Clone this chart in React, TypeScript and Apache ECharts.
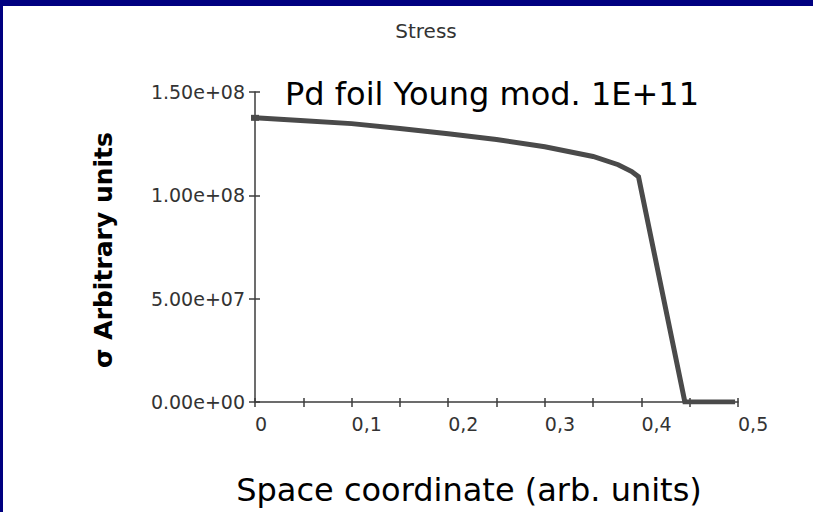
import React, { useEffect, useRef } from "react";
import * as echarts from "echarts";

const chartTitle = "Stress";
const annotation = "Pd foil Young mod. 1E+11";
const xAxisTitle = "Space coordinate (arb. units)";
const yAxisTitle = "σ Arbitrary units";

const positions = [0, 0.047, 0.1, 0.15, 0.2, 0.25, 0.3, 0.35, 0.376, 0.39, 0.397, 0.445, 0.497];
const stress = [1.375e8, 1.362e8, 1.347e8, 1.323e8, 1.298e8, 1.27e8, 1.235e8, 1.188e8, 1.148e8, 1.115e8, 1.09e8, 0, 0];

const xMin = 0;
const xMax = 0.5;
const xStep = 0.05;
const yMin = 0;
const yMax = 1.5e8;
const yStep = 5e7;

const fmtY = (v: number) => {
  const s = v.toExponential(2);
  const [m, e] = s.split("e");
  const sign = e[0];
  const digits = e.slice(1).padStart(2, "0");
  return `${m}e${sign}${digits}`;
};

const fmtX = (v: number) => {
  const t = v * 10;
  if (Math.abs(t - Math.round(t)) > 1e-6) return "";
  if (Math.round(t) === 0) return "0";
  return (Math.round(t) / 10).toFixed(1).replace(".", ",");
};

export default function App() {
  const ref = useRef<HTMLDivElement>(null);
  useEffect(() => {
    if (!ref.current) return;
    const chart = echarts.init(ref.current, undefined, { renderer: "svg" });
    const axisColor = "#3c3c3c";
    const labelFont = {
      fontFamily: "DejaVu Sans",
      fontSize: 19,
      color: "#333",
    };
    chart.setOption({
      animation: false,
      backgroundColor: "#ffffff",
      grid: { left: 255, top: 92, right: 75, bottom: 110, containLabel: false },
      xAxis: [
        {
          type: "value",
          min: xMin,
          max: xMax,
          interval: xStep,
          position: "bottom",
          axisLine: { show: true, lineStyle: { color: axisColor, width: 1.5 } },
          axisTick: { show: true, length: 5, lineStyle: { color: axisColor, width: 1.5 } },
          splitLine: { show: false },
          axisLabel: {
            ...labelFont,
            margin: 12,
            align: "left",
            formatter: (v: number) => fmtX(v),
            showMinLabel: true,
            showMaxLabel: true,
          },
        },
        {
          type: "value",
          min: xMin,
          max: xMax,
          interval: xStep,
          position: "bottom",
          axisLine: { show: false },
          axisTick: { show: true, inside: true, length: 4, lineStyle: { color: axisColor, width: 1.5 } },
          splitLine: { show: false },
          axisLabel: { show: false },
        },
      ],
      yAxis: [
        {
          type: "value",
          min: yMin,
          max: yMax,
          interval: yStep,
          position: "left",
          axisLine: { show: true, lineStyle: { color: axisColor, width: 1.5 } },
          axisTick: { show: true, length: 6, lineStyle: { color: axisColor, width: 1.5 } },
          splitLine: { show: false },
          axisLabel: {
            ...labelFont,
            margin: 10,
            formatter: (v: number) => fmtY(v),
          },
        },
        {
          type: "value",
          min: yMin,
          max: yMax,
          interval: yStep,
          position: "left",
          axisLine: { show: false },
          axisTick: { show: true, inside: true, length: 5, lineStyle: { color: axisColor, width: 1.5 } },
          splitLine: { show: false },
          axisLabel: { show: false },
        },
      ],
      series: [
        {
          type: "line",
          xAxisIndex: 0,
          yAxisIndex: 0,
          data: positions.map((x, i) =>
            i === 0
              ? { value: [x, stress[i]], symbol: "rect", symbolSize: [8, 6] }
              : { value: [x, stress[i]], symbol: "none" }
          ),
          showSymbol: true,
          itemStyle: { color: "#4a4a4a" },
          lineStyle: { color: "#4a4a4a", width: 5, join: "miter" },
          silent: true,
        },
      ],
      graphic: [
        { type: "rect", shape: { x: 0, y: 0, width: 813, height: 6 }, style: { fill: "#000080" }, silent: true },
        { type: "rect", shape: { x: 0, y: 0, width: 3, height: 512 }, style: { fill: "#000080" }, silent: true },
        {
          type: "text",
          x: 426,
          y: 31,
          style: {
            text: chartTitle,
            fontFamily: "DejaVu Sans",
            fontSize: 20,
            fill: "#333",
            align: "center",
            verticalAlign: "middle",
          },
        },
        {
          type: "text",
          x: 285,
          y: 94,
          style: {
            text: annotation,
            fontFamily: "DejaVu Sans",
            fontSize: 32,
            fill: "#000",
            align: "left",
            verticalAlign: "middle",
          },
        },
        {
          type: "text",
          x: 469,
          y: 490,
          style: {
            text: xAxisTitle,
            fontFamily: "DejaVu Sans",
            fontSize: 32,
            fill: "#000",
            align: "center",
            verticalAlign: "middle",
          },
        },
        {
          type: "text",
          x: 103,
          y: 250,
          rotation: Math.PI / 2,
          style: {
            text: yAxisTitle,
            fontFamily: "DejaVu Sans",
            fontWeight: "bold",
            fontSize: 25,
            fill: "#000",
            align: "center",
            verticalAlign: "middle",
          },
        },
      ],
    });
    return () => chart.dispose();
  }, []);
  return (
    <div
      ref={ref}
      style={{ position: "absolute", left: 0, top: 0, width: 813, height: 512, background: "#fff", overflow: "hidden" }}
    />
  );
}
